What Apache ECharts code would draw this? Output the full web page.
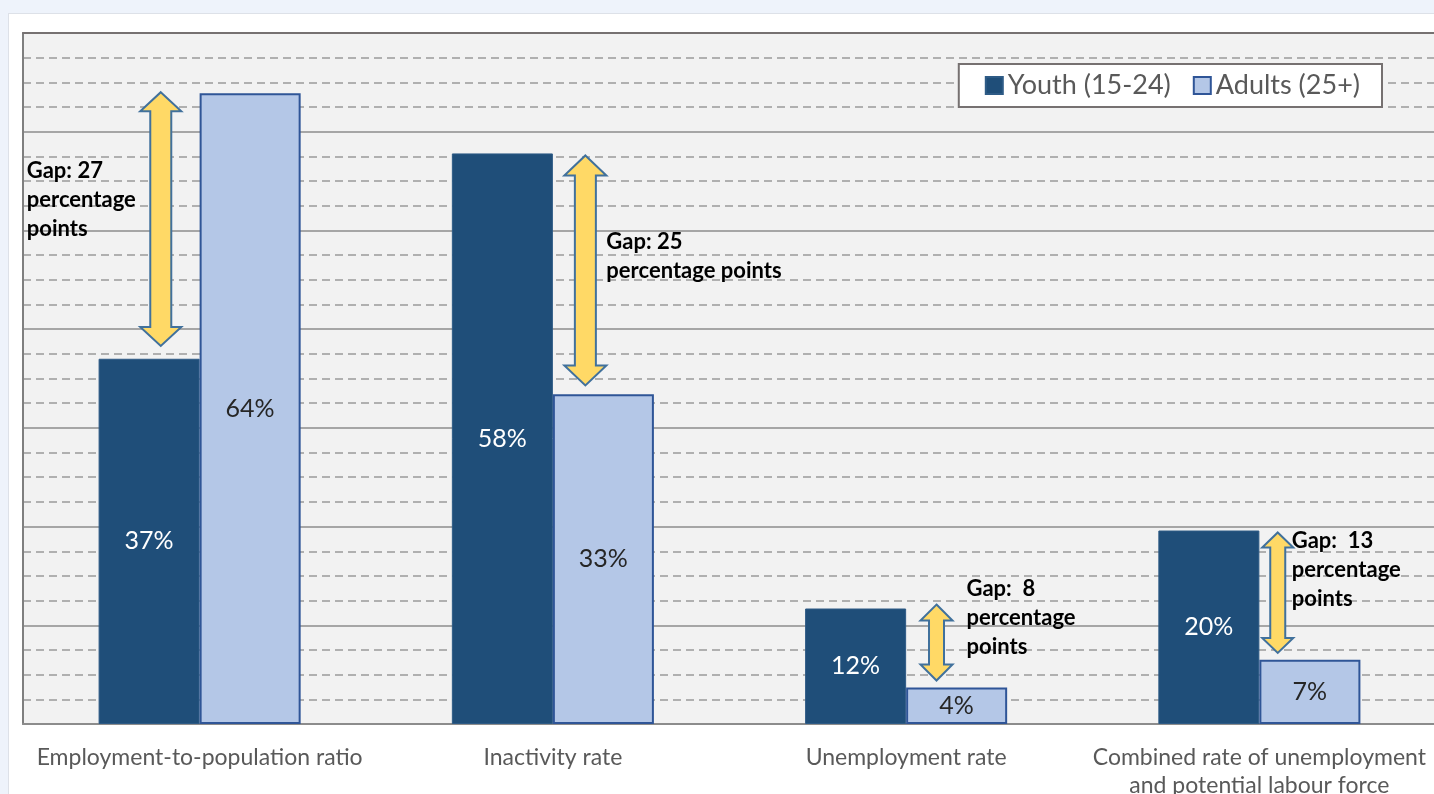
<!DOCTYPE html>
<html><head><meta charset="utf-8">
<script src="https://cdn.jsdelivr.net/npm/echarts@6/dist/echarts.min.js"></script>
<style>
html,body{margin:0;padding:0;background:#eef3fb;width:1434px;height:794px;overflow:hidden}
#card{position:absolute;left:8px;top:13px;width:1440px;height:800px;background:#fff;border:1px solid #dde1e8}
#chart{position:absolute;left:0;top:0;width:1434px;height:794px}
</style></head><body><div id="card"></div><div id="chart"></div>
<script>
// ---- data ----
const categories = ['Employment-to-population ratio', 'Inactivity rate', 'Unemployment rate', 'Combined rate of unemployment\nand potential labour force'];
const seriesNames = ['Youth (15-24)', 'Adults (25+)'];
const youth = [37, 57.8, 11.7, 19.6];
const adults = [63.9, 33.4, 3.7, 6.5];
const youthLabels = ['37%', '58%', '12%', '20%'];
const adultLabels = ['64%', '33%', '4%', '7%'];
const gapHigh = [64.0, 57.6, 12.1, 19.4];
const gapLow = [38.3, 34.3, 4.4, 7.2];
const gapLabels = ['Gap: 27\npercentage\npoints', 'Gap: 25\npercentage points', 'Gap:  8\npercentage\npoints', 'Gap:  13\npercentage\npoints'];

// ---- layout / style for annotations ----
const arrowOffset = [-0.11, 0.092, 0.086, 0.052];     // fraction of category band
const arrowHead = [[20.5, 10.5, 19], [21, 10.5, 20], [16, 7.5, 16], [15.5, 7.5, 15]]; // head half-w, shaft half-w, head len
const textDx = [-134, 21, 30, 14];
const textDy = [64, 72, -30, -6];

const FONT = 'Lato, "Open Sans", sans-serif';
const chart = echarts.init(document.getElementById('chart'), null, {renderer: 'canvas'});

const gapData = categories.map((c, i) => [i, gapHigh[i], gapLow[i]]);

chart.setOption({
  animation: false,
  backgroundColor: 'transparent',
  textStyle: {fontFamily: FONT},
  legend: {
    data: seriesNames,
    right: 52, top: 64,
    backgroundColor: '#fff',
    borderColor: '#767171', borderWidth: 2,
    padding: [8, 22, 8, 26],
    itemWidth: 17, itemHeight: 17, itemGap: 22,
    icon: 'rect',
    textStyle: {fontSize: 27, color: '#595959', fontFamily: FONT}
  },
  grid: {left: 23, right: -2, top: 33, bottom: 70, show: true, backgroundColor: '#f2f2f2', borderWidth: 0, outerBoundsMode: 'none', containLabel: false},
  xAxis: [{
    type: 'category', data: categories,
    axisLine: {show: true, lineStyle: {color: '#8c8c8c', width: 2}},
    axisTick: {show: false},
    axisLabel: {color: '#595959', fontSize: 23, margin: 20, lineHeight: 28, interval: 0, fontFamily: FONT}
  }, {
    type: 'category', data: categories, position: 'top',
    axisLine: {show: true, lineStyle: {color: '#767171', width: 2}},
    axisTick: {show: false}, axisLabel: {show: false}
  }],
  yAxis: {
    type: 'value', min: 0, max: 70, interval: 10,
    axisLine: {show: true, lineStyle: {color: '#7f7f7f', width: 2}},
    axisTick: {show: false}, axisLabel: {show: false},
    splitLine: {show: true, lineStyle: {color: '#a6a6a6', width: 2}},
    minorTick: {show: false, splitNumber: 4},
    minorSplitLine: {show: true, lineStyle: {color: '#b0b0b0', width: 2, type: [8, 5]}}
  },
  series: [{
    name: seriesNames[0], type: 'bar', data: youth,
    barGap: '0%', barCategoryGap: '42.8%',
    itemStyle: {color: '#1f4e79', borderColor: '#2e5b86', borderWidth: 1},
    label: {show: true, position: 'inside', color: '#ffffff', fontSize: 25, fontFamily: FONT,
      formatter: p => youthLabels[p.dataIndex]}
  }, {
    name: seriesNames[1], type: 'bar', data: adults,
    itemStyle: {color: '#b4c7e7', borderColor: '#2f5597', borderWidth: 2},
    label: {show: true, position: 'inside', color: '#262626', fontSize: 25, fontFamily: FONT,
      formatter: p => adultLabels[p.dataIndex]}
  }, {
    type: 'custom', z: 5, data: gapData,
    encode: {x: 0, y: [1, 2]},
    renderItem: function (params, api) {
      const i = api.value(0);
      const top = api.coord([i, api.value(1)]);
      const bot = api.coord([i, api.value(2)]);
      const band = api.size([1, 0])[0];
      const x = top[0] + arrowOffset[i] * band;
      const yt = top[1], yb = bot[1];
      const [hw, sw, hl] = arrowHead[i];
      const pts = [[x, yt], [x + hw, yt + hl], [x + sw, yt + hl], [x + sw, yb - hl], [x + hw, yb - hl], [x, yb],
        [x - hw, yb - hl], [x - sw, yb - hl], [x - sw, yt + hl], [x - hw, yt + hl]];
      return {
        type: 'group', children: [{
          type: 'polygon', shape: {points: pts},
          style: {fill: '#ffd966', stroke: '#41719c', lineWidth: 2}
        }, {
          type: 'text', x: x + textDx[i], y: yt + textDy[i],
          style: {text: gapLabels[i], fill: '#000', font: 'bold 22px ' + FONT, lineHeight: 29, align: 'left', verticalAlign: 'top'}
        }]
      };
    }
  }]
});
</script></body></html>
